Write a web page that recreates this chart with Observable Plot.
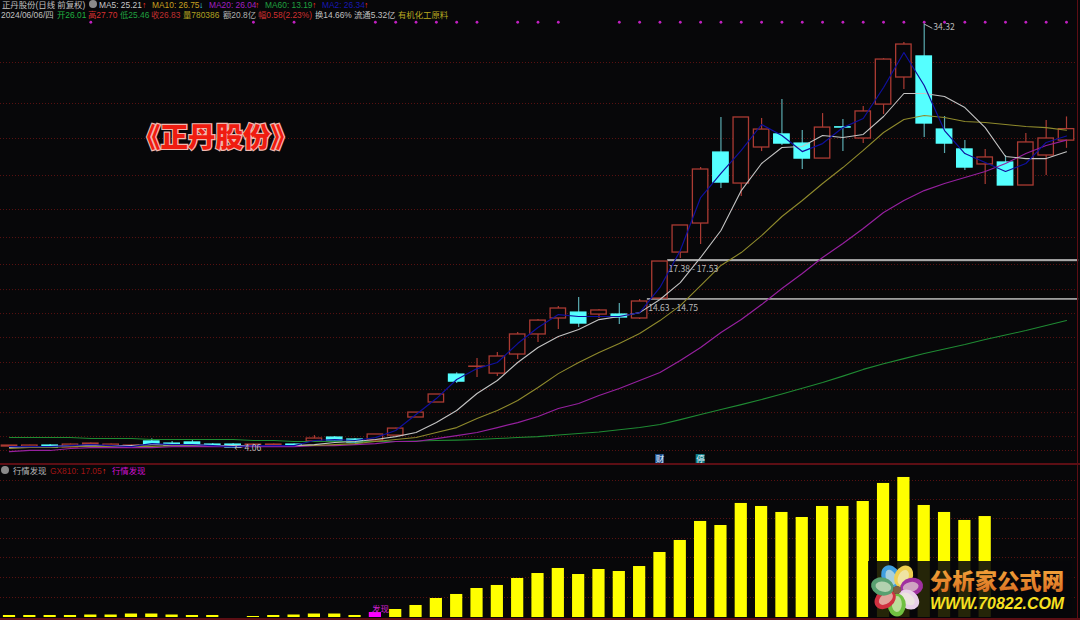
<!DOCTYPE html>
<html><head><meta charset="utf-8">
<script src="https://cdn.jsdelivr.net/npm/d3@7"></script>
<script src="https://cdn.jsdelivr.net/npm/@observablehq/plot@0.6"></script>
<style>
html,body{margin:0;padding:0;background:#070709;overflow:hidden}
#stage{position:relative;width:1080px;height:620px;background:#070709;overflow:hidden;font-family:"Noto Sans CJK SC","Noto Sans",sans-serif}
#top,#bottom{position:absolute;left:0}
#top{top:0}#bottom{top:464px}
svg{display:block}
.t{position:absolute;white-space:nowrap;font-family:"Liberation Sans","Noto Sans CJK SC",sans-serif;font-size:8.4px;line-height:10px}
.ico{position:absolute;width:8px;height:8px;border-radius:50%;background:#8a8a8a}
.sep{position:absolute;background:#5c0e14}
#title{position:absolute;left:133px;top:118px;font-size:27.5px;line-height:34px;font-weight:900;color:#f01c10;-webkit-text-stroke:2.4px #f0b8b0;paint-order:stroke fill;white-space:nowrap}
</style></head><body>
<div id="stage"><div id="top"></div><div id="bottom"></div></div>
<script>
const opens=[4.20,4.13,4.27,4.13,4.34,4.13,4.13,4.56,4.41,4.49,4.34,4.34,4.27,4.27,4.34,4.56,4.84,4.70,4.63,4.98,6.27,7.34,9.33,9.88,9.40,10.76,12.19,13.33,13.75,13.61,13.61,13.33,14.75,18.03,20.10,25.16,22.95,25.52,26.45,25.80,24.73,26.96,26.16,28.58,30.51,32.01,26.80,25.38,24.31,24.45,22.81,24.95,26.01];
const closes=[4.27,4.27,4.13,4.34,4.41,4.34,4.27,4.34,4.27,4.27,4.20,4.13,4.34,4.34,4.27,4.77,4.63,4.49,5.06,5.48,6.62,7.91,8.83,9.90,10.62,12.19,13.18,14.04,12.97,13.90,13.40,14.54,17.39,19.96,23.95,23.02,27.66,26.80,25.80,24.73,26.94,26.94,28.09,31.79,32.86,27.23,25.80,24.09,24.81,22.81,25.88,26.16,26.83];
const highs=[4.27,4.30,4.34,4.38,4.45,4.38,4.30,4.75,4.56,4.63,4.41,4.41,4.38,4.38,4.38,4.98,4.91,4.77,5.06,5.50,6.62,7.91,9.47,10.47,10.90,12.33,13.25,14.18,14.82,13.97,14.40,14.68,17.39,19.96,24.09,27.66,27.66,27.59,28.94,26.73,27.94,27.52,28.44,31.86,33.01,34.32,27.73,26.02,25.38,24.95,26.52,27.44,27.70];
const lows=[4.13,4.10,4.10,4.10,4.30,4.10,4.10,4.30,4.24,4.24,4.17,4.06,4.24,4.24,4.24,4.56,4.60,4.45,4.60,4.95,6.27,7.34,8.69,9.12,9.19,10.40,11.62,12.54,12.69,13.33,12.90,13.25,14.75,17.60,18.60,22.60,22.03,25.23,25.66,23.95,24.73,25.23,25.80,27.87,29.65,26.23,25.09,23.88,22.88,22.81,22.81,23.52,25.46];
const ma2=[4.20,4.20,4.20,4.27,4.34,4.27,4.20,4.41,4.34,4.34,4.27,4.20,4.27,4.27,4.27,4.63,4.70,4.63,4.84,5.34,6.48,7.62,8.98,9.76,10.19,11.54,12.69,13.61,13.47,13.47,13.47,13.75,15.54,18.18,21.95,23.67,25.31,27.16,26.37,25.23,25.80,26.94,27.59,29.80,32.29,29.94,26.73,25.09,24.45,23.81,24.38,25.88,26.34];
const ma5=[4.13,4.20,4.20,4.27,4.27,4.27,4.27,4.34,4.34,4.34,4.27,4.27,4.27,4.27,4.27,4.34,4.49,4.56,4.70,4.91,5.20,5.91,6.77,7.98,8.91,10.19,11.26,12.04,12.54,13.25,13.47,13.75,14.68,15.89,17.68,19.60,22.45,24.38,25.52,25.59,26.37,26.23,26.45,27.73,29.37,29.37,29.16,28.37,26.94,24.88,24.73,24.73,25.21];
const ma10=[4.06,4.13,4.13,4.20,4.20,4.20,4.20,4.20,4.27,4.27,4.27,4.27,4.27,4.27,4.27,4.27,4.34,4.41,4.56,4.70,4.84,5.20,5.55,6.20,6.77,7.48,8.41,9.40,10.19,10.90,11.54,12.26,13.18,14.25,15.68,17.11,18.03,19.24,20.60,21.74,22.95,24.09,25.31,26.59,27.52,27.80,27.66,27.37,27.30,27.16,27.02,26.94,26.75];
const ma20=[3.84,3.92,3.92,4.06,4.13,4.13,4.13,4.13,4.20,4.20,4.20,4.20,4.20,4.20,4.20,4.27,4.27,4.34,4.41,4.56,4.56,4.77,4.98,5.20,5.55,5.91,6.34,6.91,7.27,7.84,8.34,8.91,9.48,10.33,11.26,12.33,13.25,14.32,15.47,16.54,17.68,18.67,19.74,20.88,21.74,22.45,22.95,23.38,23.81,24.38,25.09,25.66,26.04];
const ma60=[4.84,4.84,4.84,4.84,4.77,4.77,4.77,4.70,4.70,4.70,4.70,4.70,4.63,4.63,4.56,4.56,4.56,4.56,4.56,4.56,4.60,4.63,4.66,4.70,4.77,4.84,4.91,5.02,5.13,5.24,5.40,5.56,5.77,6.12,6.48,6.84,7.19,7.55,7.95,8.35,8.76,9.22,9.70,10.10,10.47,10.83,11.15,11.47,11.83,12.15,12.47,12.83,13.19];
const gx810=[0.34,0.34,0.34,0.34,0.42,0.42,0.59,0.59,0.42,0.34,0.34,0,0.17,0.34,0.42,0.59,0.59,0.34,0.84,1.35,2.03,3.21,3.89,4.90,5.41,6.59,7.43,8.28,7.26,8.11,7.77,8.61,10.98,13.01,16.22,15.54,19.26,18.75,17.74,16.89,18.75,18.75,19.59,22.64,23.65,18.92,17.74,16.39,17.05];
const signalIndex=[18];
const topMarks=[4,12,14,18,19,20,21,22,23,25,26,27,30,31,32,33,34,35,36,37,38,39,40,41,42,43,44,45,46,47,48,49,50,51,52];
const upperGrid=[31.58,28.66,26.16,23.52,21.10,19.10,17.18,15.39,13.68,11.97,10.19,8.26,6.62,4.91,3.92];
const lowerGrid=[23.14,19.93,16.72,13.34,10.14,6.76,3.38];
const bands=[{from:32,lo:17.38,hi:17.53,label:"17.38 - 17.53"},{from:31,lo:14.63,hi:14.75,label:"14.63 - 14.75"}];
const events=[{i:32,label:"财",bg:"#1d4f8c"},{i:34,label:"停",bg:"#0f7f88"}];

const RED="#ab3b33",CY="#55ffff",CYW="#5aaab0",BG="#070709",TXT="#b9b9b9",FONT="'Noto Sans CJK SC','Noto Sans',sans-serif";
const candles=opens.map((o,i)=>({i,o,c:closes[i],h:highs[i],l:lows[i],up:closes[i]>=o&&i!==41}));
const series=[[ma60,"#1f8a33",1.1],[ma20,"#96209f",1.2],[ma10,"#8f8a2c",1.1],[ma5,"#c4c4c4",1.1],[ma2,"#10109e",1.2]];
const upper=Plot.plot({width:1080,height:464,margin:0,
 x:{domain:[0,52],range:[9,1066],axis:null},y:{domain:[2.92,36],range:[464,0],axis:null},
 style:{background:"transparent"},
 marks:[
  Plot.ruleY(upperGrid,{stroke:"#5a1212",strokeDasharray:"1,2",strokeWidth:1}),
  Plot.rect(bands,{x1:d=>d.from+0.38,x2:52.6,y1:"lo",y2:"hi",fill:"#a8a8a8"}),
  Plot.ruleX(candles,{x:"i",y1:"l",y2:"h",stroke:d=>d.up?RED:CYW,strokeWidth:1.2}),
  Plot.rect(candles,{x1:d=>d.i-.38,x2:d=>d.i+.38,y1:"o",y2:"c",fill:d=>d.up?BG:CY,stroke:d=>d.up?RED:CY,strokeWidth:1.3}),
  ...series.map(([v,c,w])=>Plot.line(v,{x:(d,i)=>i,y:d=>d,stroke:c,strokeWidth:w})),
  Plot.dot(topMarks,{x:d=>d,y:()=>34.45,r:1.4,fill:"#c020c0"}),
  Plot.text(bands,{x:d=>d.from+0.42,y:"lo",text:"label",dy:8,textAnchor:"start",fill:TXT,fontSize:8.6,fontFamily:FONT}),
  Plot.link([34.32],{x1:()=>45,y1:d=>d,x2:()=>45.4,y2:d=>d-0.3,stroke:TXT,strokeWidth:1}),
  Plot.text(["34.32"],{x:()=>45,y:()=>34.32,dx:9,dy:3.5,textAnchor:"start",fill:TXT,fontSize:8.6,fontFamily:FONT}),
  Plot.text(["\u2190 4.06"],{x:()=>11,y:()=>4.06,dx:1,dy:0,textAnchor:"start",fill:TXT,fontSize:8.6,fontFamily:FONT}),
  Plot.rect(events,{x1:d=>d.i-.22,x2:d=>d.i+.22,y1:2.99,y2:3.63,fill:"bg"}),
  Plot.text(events,{x:"i",y:3.31,text:"label",fill:"#e8f4ff",fontSize:8.5,fontFamily:FONT})
 ]});
document.getElementById("top").append(upper);

const barData=gx810.map((v,i)=>({i,v,sig:signalIndex.includes(i)}));
const lower=Plot.plot({width:1080,height:156,margin:0,
 x:{domain:[0,52],range:[9,1066],axis:null},y:{domain:[0,25.84],range:[153,0],axis:null},
 style:{background:"transparent"},
 marks:[
  Plot.ruleY(lowerGrid,{stroke:"#5a1212",strokeDasharray:"1,2",strokeWidth:1}),
  Plot.rect(barData,{x1:d=>d.i-.3,x2:d=>d.i+.3,y1:0,y2:"v",fill:d=>d.sig?"#ff00ff":"#ffff00"}),
  Plot.text(["发现"],{x:()=>signalIndex[0],y:()=>1.0,dx:5,dy:-2,fill:"#d020d0",fontSize:8.5,fontFamily:FONT})
 ]});
document.getElementById("bottom").append(lower);

const stage=document.getElementById("stage");
const put=(x,y,txt,col)=>{const e=document.createElement("div");e.className="t";e.style.left=x+"px";e.style.top=y+"px";e.style.color=col;e.textContent=txt;stage.append(e);return e};
const ico=(x,y)=>{const e=document.createElement("div");e.className="ico";e.style.left=x+"px";e.style.top=y+"px";stage.append(e)};
const sep=(l,t,w,h)=>{const e=document.createElement("div");e.className="sep";Object.assign(e.style,{left:l+"px",top:t+"px",width:w+"px",height:h+"px"});stage.append(e)};
sep(0,463,1080,2);sep(0,618,1080,2);sep(1077,0,1,620);

put(2,0,"正丹股份(日线 前复权)","#c0c0c0");ico(89,0);
[[99,"MA5: 25.21","#c8c8c8",142,"↑","#ff3020"],[152,"MA10: 26.75","#c8a020",199,"↓","#40e0ff"],[209,"MA20: 26.04","#a020c0",255,"↑","#ff3020"],[265,"MA60: 13.19","#20a040",312,"↑","#ff3020"],[322,"MA2: 26.34","#1818b0",364,"↑","#ff3020"]]
 .forEach(([x,s,c,ax,a,ac])=>{put(x,0,s,c);put(ax,0,a,ac)});
[[1,"2024/06/06/四","#c0c0c0"],[57,"开26.01","#20b040"],[88,"高27.70","#d83030"],[120,"低25.46","#20a040"],[151,"收26.83","#c03030"],[183,"量780386","#b0a020"],[223,"额20.8亿","#b0b0b0"],[258,"幅0.58(2.23%)","#d03030"],[315,"换14.66%","#c0c0c0"],[354,"流通5.32亿","#c0c0c0"],[398,"有机化工原料","#b8a820"]]
 .forEach(([x,s,c])=>put(x,9.6,s,c));
ico(1,466);put(13,465.5,"行情发现","#b8b8b8");put(50,465.5,"GX810: 17.05","#a01414");put(102,465.5,"↑","#ff3020");put(112,465.5,"行情发现","#d010d0");

const title=document.createElement("div");title.id="title";title.textContent="《正丹股份》";stage.append(title);

const ns="http://www.w3.org/2000/svg";
const petals=["#3f9fe0","#f0d050","#a030a0","#e8d0e8","#70c040","#d03040","#58a070"];
let logo=`<svg xmlns="${ns}" width="212" height="58" style="position:absolute;left:868px;top:561px"><defs><linearGradient id="g" x1="0" y1="0" x2="0" y2="1"><stop offset="0" stop-color="#f8b040"/><stop offset="1" stop-color="#d86a20"/></linearGradient></defs><rect x="0" y="0" width="204" height="57" fill="#070709" fill-opacity=".88"/>`;
petals.forEach((c,i)=>{const a=i*360/7-25;logo+=`<g transform="translate(29,29) rotate(${a})"><ellipse cx="0" cy="-15" rx="9" ry="11.5" fill="${c}"/><ellipse cx="0" cy="-14" rx="5" ry="8" fill="#eef2d8" fill-opacity=".6"/></g>`});
logo+=`<circle cx="29" cy="29" r="4" fill="#806040"/><text x="62" y="28" font-family="'Noto Sans CJK SC'" font-weight="900" font-size="22" fill="url(#g)" textLength="134" lengthAdjust="spacingAndGlyphs">分析家公式网</text><text x="62" y="48" font-family="'Liberation Sans'" font-style="italic" font-weight="700" font-size="16" fill="#f6e020" textLength="134" lengthAdjust="spacingAndGlyphs">WWW.70822.COM</text></svg>`;
stage.insertAdjacentHTML("beforeend",logo);
</script></body></html>
